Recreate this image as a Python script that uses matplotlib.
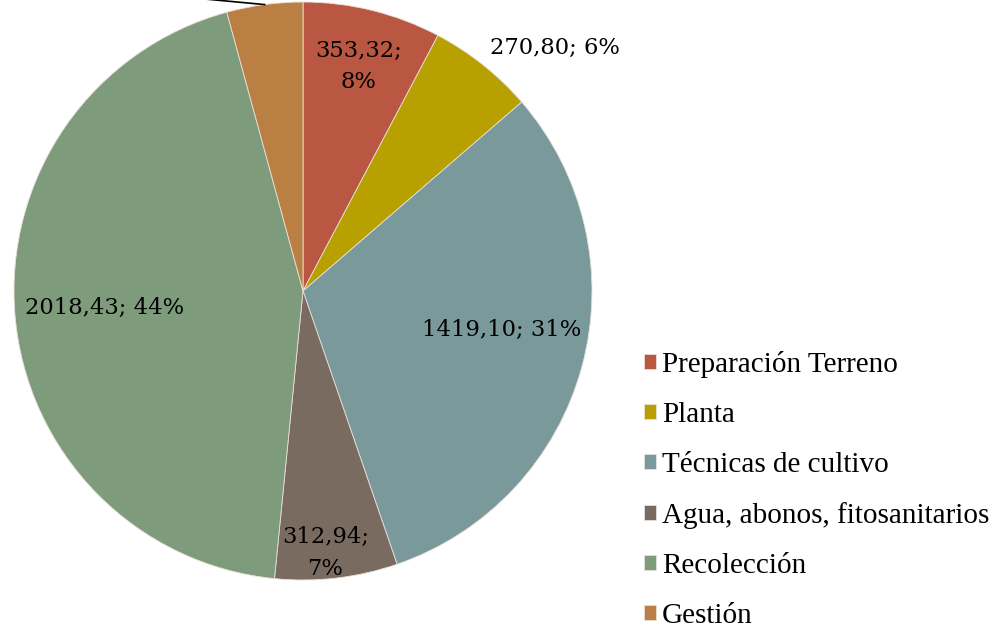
import matplotlib.pyplot as plt
import numpy as np

categorias = ["Preparación Terreno", "Planta", "Técnicas de cultivo",
              "Agua, abonos, fitosanitarios", "Recolección", "Gestión"]
valores = [353.32, 270.80, 1419.10, 312.94, 2018.43, 194.00]
colores = ["#B95742", "#B7A000", "#7A999A", "#7A6B60", "#7E9B7B", "#BA8043"]

# posicion de cada etiqueta: (factor de radio, desplazamiento de angulo)
pos_etiq = [(0.80, 0.0), (1.21, -7.5), (0.70, 4.0), (0.91, -1.8), (0.69, 0.0)]
saltos = [True, False, False, True, False]

def fmt(v, tot, salto):
    txt = f"{v:.2f}".replace(".", ",")
    sep = ";\n" if salto else "; "
    return f"{txt}{sep}{round(100*v/tot):.0f}%"

fig = plt.figure(figsize=(10, 6.27), dpi=100)
R = 289
cx, cy = 303, 627 - 291
ax = fig.add_axes([(cx - R)/1000, (cy - R)/627, 2*R/1000, 2*R/627])

wedges, _ = ax.pie(valores, colors=colores, startangle=90, counterclock=False,
                   radius=1, wedgeprops=dict(linewidth=0.6, edgecolor="#e8e0d8"))
ax.set_xlim(-1, 1)
ax.set_ylim(-1, 1)
ax.set_aspect("equal")

total = sum(valores)
for w, v, (rf, da), s in zip(wedges, valores, pos_etiq, saltos):
    ang = np.deg2rad((w.theta1 + w.theta2) / 2 + da)
    ax.text(rf*np.cos(ang), rf*np.sin(ang), fmt(v, total, s),
            ha="center", va="center", fontsize=16.3, family="DejaVu Serif",
            linespacing=1.55)

# linea guia de la etiqueta de Gestion (la etiqueta queda fuera del recorte)
w = wedges[-1]
ang = np.deg2rad((w.theta1 + w.theta2) / 2)
x0, y0 = np.cos(ang), np.sin(ang)
ax.plot([x0, -0.9], [y0, y0 + (x0 + 0.9)*0.093], color="black", lw=1.2,
        clip_on=False)

fig.legend(wedges, categorias, loc="upper left", bbox_to_anchor=(0.644, 0.44),
           frameon=False, prop={"family": "Liberation Serif", "size": 21},
           handlelength=0.42, handleheight=0.42, handletextpad=0.2,
           labelspacing=0.82, borderpad=0, borderaxespad=0)

plt.savefig("out.png", dpi=100)
